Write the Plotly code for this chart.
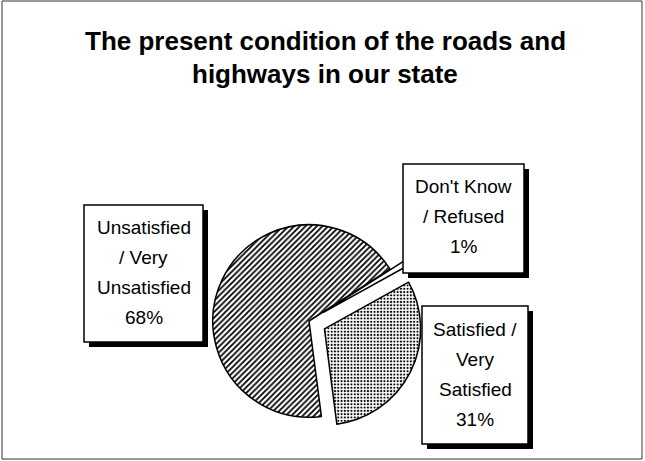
import plotly.graph_objects as go

# ---- data ----
labels = ["Don't Know / Refused", "Satisfied / Very Satisfied", "Unsatisfied / Very Unsatisfied"]
values = [1, 31, 68]
label_lines = [
    ["Don't Know", "/ Refused", "1%"],
    ["Satisfied /", "Very", "Satisfied", "31%"],
    ["Unsatisfied", "/ Very", "Unsatisfied", "68%"],
]
title_lines = ["The present condition of the roads and", "highways in our state"]

W, H = 645, 461


def px(x):
    return x / W


def py(y):
    return 1 - y / H


fig = go.Figure()
fig.add_trace(go.Pie(
    labels=labels,
    values=values,
    sort=False,
    direction="clockwise",
    rotation=57.4,
    pull=[0.18, 0.18, 0],
    textinfo="none",
    hoverinfo="skip",
    showlegend=False,
    domain=dict(x=[px(195.5), px(422.5)], y=[py(434.5), py(207.5)]),
    marker=dict(
        colors=["white", "white", "white"],
        line=dict(color="black", width=1.5),
        pattern=dict(
            shape=["", ".", "/"],
            fgcolor="black",
            bgcolor="white",
            size=[4, 3.3, 4],
            solidity=[0.3, 0.35, 0.45],
        ),
    ),
))

shapes = []
annotations = []

# outer frame
shapes.append(dict(type="rect", xref="paper", yref="paper",
                   x0=px(2), x1=px(642), y0=py(459), y1=py(1),
                   line=dict(color="#333", width=1), fillcolor="rgba(0,0,0,0)"))

# label boxes: (x0, y0, x1, y1, first line center y)
boxes = [
    (403, 164, 524, 273, 185.5),
    (422, 306, 528, 444, 328.5),
    (84, 205, 203, 342, 226.5),
]
line_gap = 30
for (x0, y0, x1, y1, ly), lines in zip(boxes, label_lines):
    shapes.append(dict(type="rect", xref="paper", yref="paper",
                       x0=px(x0 + 5), x1=px(x1 + 5), y0=py(y1 + 5), y1=py(y0 + 5),
                       line=dict(width=0), fillcolor="black", layer="above"))
    shapes.append(dict(type="rect", xref="paper", yref="paper",
                       x0=px(x0), x1=px(x1), y0=py(y1), y1=py(y0),
                       line=dict(color="black", width=1.5), fillcolor="white", layer="above"))
    cx = (x0 + x1) / 2
    for i, t in enumerate(lines):
        annotations.append(dict(text=t, xref="paper", yref="paper",
                                x=px(cx), y=py(ly + i * line_gap + 1),
                                xanchor="center", yanchor="middle", showarrow=False,
                                font=dict(family="Liberation Sans, Arial, sans-serif", size=19, color="black")))

# title
for i, t in enumerate(title_lines):
    annotations.append(dict(text="<b>" + t + "</b>", xref="paper", yref="paper",
                            x=px(325), y=py(41 + i * 33),
                            xanchor="center", yanchor="middle", showarrow=False,
                            font=dict(family="Liberation Sans, Arial, sans-serif", size=26, color="black")))

fig.update_layout(
    width=W, height=H,
    margin=dict(l=0, r=0, t=0, b=0),
    paper_bgcolor="white",
    plot_bgcolor="white",
    shapes=shapes,
    annotations=annotations,
)

fig.write_html("out.html", config={"displayModeBar": False},
               post_script="document.body.style.margin='0';")
